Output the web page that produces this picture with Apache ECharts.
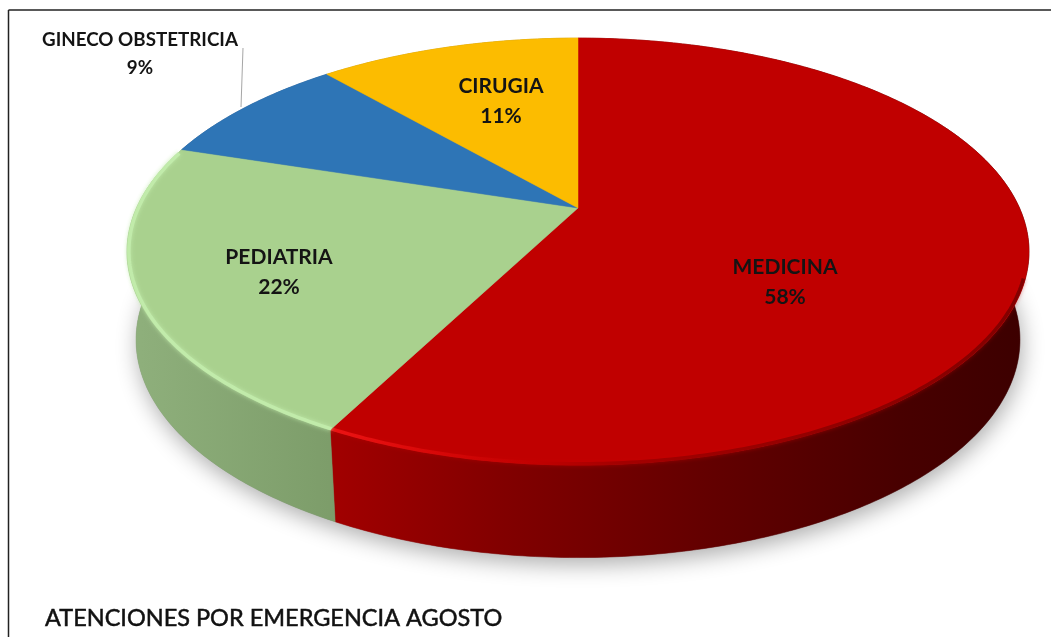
<!DOCTYPE html>
<html>
<head>
<meta charset="utf-8">
<style>html,body{margin:0;padding:0;background:#fff}#c{width:1051px;height:637px}</style>
<script src="https://cdn.jsdelivr.net/npm/echarts@6/dist/echarts.min.js"></script>
</head>
<body>
<div id="c"></div>
<script>
const categories = ['MEDICINA', 'PEDIATRIA', 'GINECO OBSTETRICIA', 'CIRUGIA'];
const values = [57.6, 22.3, 8.7, 11.4];
const topColors = ['#C00000', '#A9D18E', '#2E75B6', '#FCBC00'];
const titleText = 'ATENCIONES POR EMERGENCIA AGOSTO';

// perspective view of the disc
const view = { cx: 578, cy: 208, bx: 441.5, ay: 204.6, k: 0.204, baseCy: 295.4, baseScaleX: 0.98, baseScaleY: 1.02 };
const labelAnchors = [[785, 282], [279, 272], [140, 54], [501, 101]];
const FONT = 'Lato, "Open Sans", sans-serif';

const total = values.reduce((a, b) => a + b, 0);
const starts = [];
values.reduce((acc, v, i) => { starts[i] = acc; return acc + v; }, 0);
const toAngle = v => v / total * Math.PI * 2;

function project(theta, r, base) {
  const u = r * Math.sin(theta), v = -r * Math.cos(theta);
  const w = 1 - view.k * v;
  if (base) {
    return [view.cx + view.baseScaleX * view.bx * u / w,
            view.baseCy + view.baseScaleY * view.ay * v / w];
  }
  return [view.cx + view.bx * u / w, view.cy + view.ay * v / w];
}
function arc(a0, a1, r, base) {
  const n = Math.max(2, Math.ceil(Math.abs(a1 - a0) * 80));
  const pts = [];
  for (let i = 0; i <= n; i++) pts.push(project(a0 + (a1 - a0) * i / n, r, base));
  return pts;
}
function hGrad(stops) {
  return { type: 'linear', x: 130, y: 0, x2: 1030, y2: 0, global: true,
    colorStops: stops.map(s => ({ offset: (s[0] - 130) / 900, color: s[1] })) };
}
const wallFills = [
  hGrad([[130, '#a00000'], [340, '#a00000'], [500, '#820000'], [700, '#640000'], [900, '#480000'], [1030, '#3c0000']]),
  hGrad([[130, '#8fb07c'], [340, '#7c9c69'], [1030, '#7c9c69']]),
  '#24598a', '#b98a00'
];
const rimFills = [
  hGrad([[130, '#ee1414'], [345, '#ee1414'], [440, '#d80808'], [540, '#C00000'], [620, '#a00000'], [1030, '#7a0000']]),
  '#c2ecac', null, null
];

function renderWall(params, api) {
  const i = params.dataIndex;
  const a0 = toAngle(starts[i]), a1 = toAngle(starts[i] + api.value(0));
  const children = [];
  if (i === 0) {
    children.push({ type: 'polygon', shape: { points: arc(0, Math.PI * 2, 1, true) },
      style: { fill: '#888', shadowColor: 'rgba(0,0,0,0.32)', shadowBlur: 22, shadowOffsetX: 2, shadowOffsetY: 7 } });
  }
  const pts = arc(a0, a1, 1, false).concat(arc(a0, a1, 1, true).reverse());
  children.push({ type: 'polygon', shape: { points: pts }, style: { fill: wallFills[i], stroke: wallFills[i], lineWidth: 0.5 } });
  return { type: 'group', children };
}
function renderTop(params, api) {
  const i = params.dataIndex;
  const a0 = toAngle(starts[i]), a1 = toAngle(starts[i] + api.value(0));
  const children = [{
    type: 'polygon',
    shape: { points: [project(0, 0, false)].concat(arc(a0, a1, 1, false)) },
    style: { fill: topColors[i], stroke: topColors[i], lineWidth: 0.5 }
  }];
  if (rimFills[i]) {
    const lo = Math.max(a0, 1.9), hi = Math.min(a1, 5.0);
    children.push({ type: 'polyline', shape: { points: arc(lo, hi, 0.996, false) },
      style: { fill: null, stroke: rimFills[i], lineWidth: 3.5, opacity: 0.9, shadowColor: i === 1 ? '#c2ecac' : 'rgba(200,0,0,0.6)', shadowBlur: 4 } });
  }
  return { type: 'group', children };
}
function renderLabel(params, api) {
  const i = params.dataIndex;
  const a = labelAnchors[i];
  const children = [];
  if (i === 2) {
    children.push({ type: 'line', shape: { x1: 243, y1: 48, x2: 241, y2: 107 },
      style: { stroke: '#a6a6a6', lineWidth: 1 } });
  }
  const pct = Math.round(api.value(0) / total * 100);
  children.push({ type: 'text', x: a[0], y: a[1], style: {
    text: categories[i] + '\n' + pct + '%',
    font: (i === 2 ? '700 18.8px ' : '700 21px ') + FONT,
    fill: '#141414', align: 'center', verticalAlign: 'middle',
    lineHeight: i === 2 ? 28 : 30
  } });
  return { type: 'group', children };
}

const data = categories.map((c, i) => ({ name: c, value: values[i] }));
const chart = echarts.init(document.getElementById('c'), null, { renderer: 'canvas' });
chart.setOption({
  backgroundColor: '#fff',
  animation: false,
  title: { text: titleText, left: 40, top: 601,
    textStyle: { fontFamily: FONT, fontWeight: 400, fontSize: 23.5, color: '#111', textBorderColor: '#111', textBorderWidth: 0.5 } },
  graphic: [
    { type: 'line', shape: { x1: 8.5, y1: 10, x2: 1051, y2: 10 }, style: { stroke: '#222', lineWidth: 1.5 } },
    { type: 'line', shape: { x1: 8.5, y1: 10, x2: 8.5, y2: 637 }, style: { stroke: '#222', lineWidth: 1.5 } }
  ],
  series: [
    { type: 'custom', coordinateSystem: 'none', z: 1, data, renderItem: renderWall, encode: { value: 0 } },
    { type: 'custom', coordinateSystem: 'none', z: 2, data, renderItem: renderTop, encode: { value: 0 } },
    { type: 'custom', coordinateSystem: 'none', z: 3, data, renderItem: renderLabel, encode: { value: 0 } }
  ]
});
</script>
</body>
</html>
